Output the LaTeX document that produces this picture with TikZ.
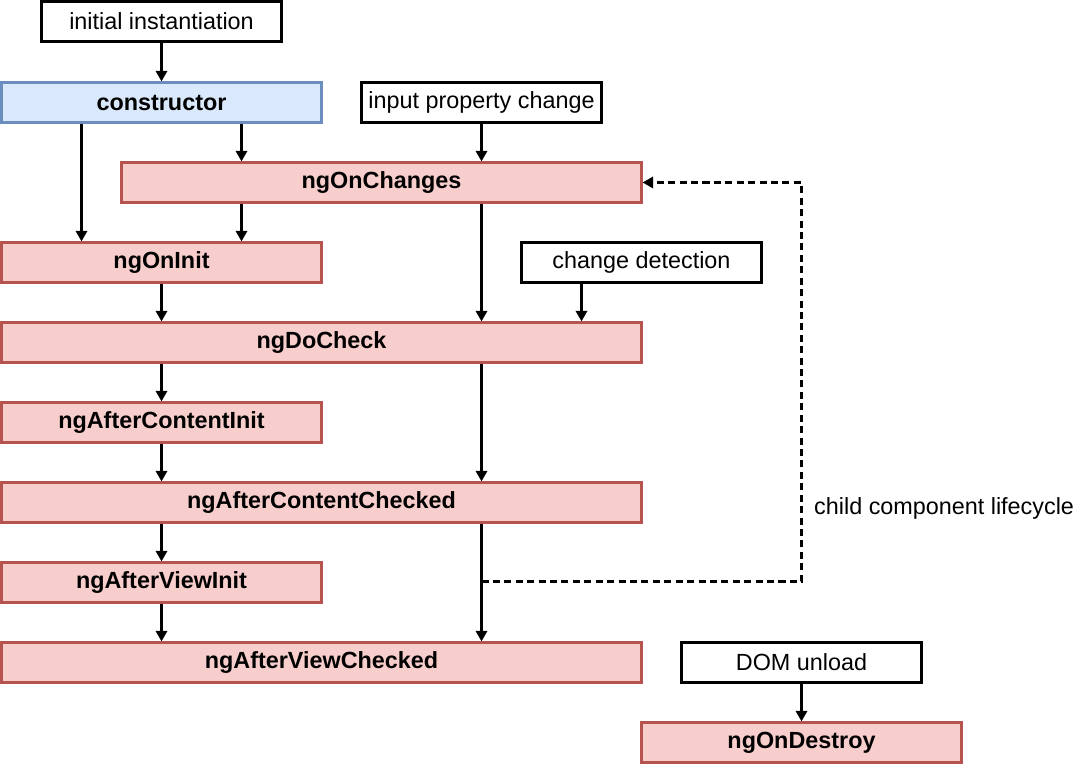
\documentclass[tikz,border=0pt]{standalone}
\usepackage{fontspec}
\setmainfont{Liberation Sans}
\usepackage{tikz}
\usetikzlibrary{arrows.meta,positioning,calc}
\definecolor{hookfill}{HTML}{F8CECC}
\definecolor{hookline}{HTML}{B85450}
\definecolor{ctorfill}{HTML}{DAE8FC}
\definecolor{ctorline}{HTML}{6C8EBF}

\begin{document}
\begin{tikzpicture}[
    font=\fontsize{13.3}{16}\selectfont,
    box/.style={draw=black,line width=1.3pt,minimum height=0.8cm,inner sep=0pt},
    hook/.style={box,draw=hookline,fill=hookfill,font=\fontsize{13.3}{16}\selectfont\bfseries},
    arr/.style={line width=1.3pt,-{Triangle[length=6pt,width=6.5pt]}}]
  \useasboundingbox (-0.03,0.03) rectangle (21.57,-15.25);
  % triggers
  \node[box,minimum width=4.8cm] (init) at (3.2,-0.4) {initial instantiation};
  \node[box,minimum width=4.8cm] (input) at (9.6,-2.02) {input property change};
  \node[box,minimum width=4.8cm] (detect) at (12.8,-5.22) {change detection};
  \node[box,minimum width=4.8cm] (unload) at (16,-13.22) {DOM unload};
  % hooks
  \node[box,draw=ctorline,fill=ctorfill,font=\fontsize{13.3}{16}\selectfont\bfseries,
        minimum width=6.4cm] (ctor) at (3.2,-2.02) {constructor};
  \node[hook,minimum width=10.4cm] (changes) at (7.6,-3.62) {ngOnChanges};
  \node[hook,minimum width=6.4cm] (oninit) at (3.2,-5.22) {ngOnInit};
  \node[hook,minimum width=12.8cm] (docheck) at (6.4,-6.82) {ngDoCheck};
  \node[hook,minimum width=6.4cm] (aci) at (3.2,-8.42) {ngAfterContentInit};
  \node[hook,minimum width=12.8cm] (acc) at (6.4,-10.02) {ngAfterContentChecked};
  \node[hook,minimum width=6.4cm] (avi) at (3.2,-11.62) {ngAfterViewInit};
  \node[hook,minimum width=12.8cm] (avc) at (6.4,-13.22) {ngAfterViewChecked};
  \node[hook,minimum width=6.4cm] (destroy) at (16,-14.82) {ngOnDestroy};
  \node[anchor=west] (child) at (16.13,-10.14) {child component lifecycle};
  % lanes
  \coordinate (laneA) at (1.6,0);
  \coordinate (laneB) at (3.2,0);
  \coordinate (laneC) at (4.8,0);
  \coordinate (laneD) at (9.6,0);
  \coordinate (laneE) at (11.6,0);
  \coordinate (loopS) at (9.6,-11.6);
  \coordinate (loopC) at (16,-11.6);
  % arrows
  \draw[arr] (init) -- (ctor);
  \draw[arr] (ctor.south -| laneA) -- (oninit.north -| laneA);
  \draw[arr] (ctor.south -| laneC) -- (changes.north -| laneC);
  \draw[arr] (input) -- (changes.north -| input);
  \draw[arr] (changes.south -| laneC) -- (oninit.north -| laneC);
  \draw[arr] (changes.south -| laneD) -- (docheck.north -| laneD);
  \draw[arr] (detect.south -| laneE) -- (docheck.north -| laneE);
  \draw[arr] (oninit.south -| laneB) -- (docheck.north -| laneB);
  \draw[arr] (docheck.south -| laneB) -- (aci.north -| laneB);
  \draw[arr] (docheck.south -| laneD) -- (acc.north -| laneD);
  \draw[arr] (aci.south -| laneB) -- (acc.north -| laneB);
  \draw[arr] (acc.south -| laneB) -- (avi.north -| laneB);
  \draw[arr] (acc.south -| laneD) -- (avc.north -| laneD);
  \draw[arr] (avi.south -| laneB) -- (avc.north -| laneB);
  \draw[arr] (unload) -- (destroy);
  \draw[arr,dash pattern=on 4pt off 2.5pt] (loopS) -- (loopC) |- (changes.east);
\end{tikzpicture}
\end{document}
